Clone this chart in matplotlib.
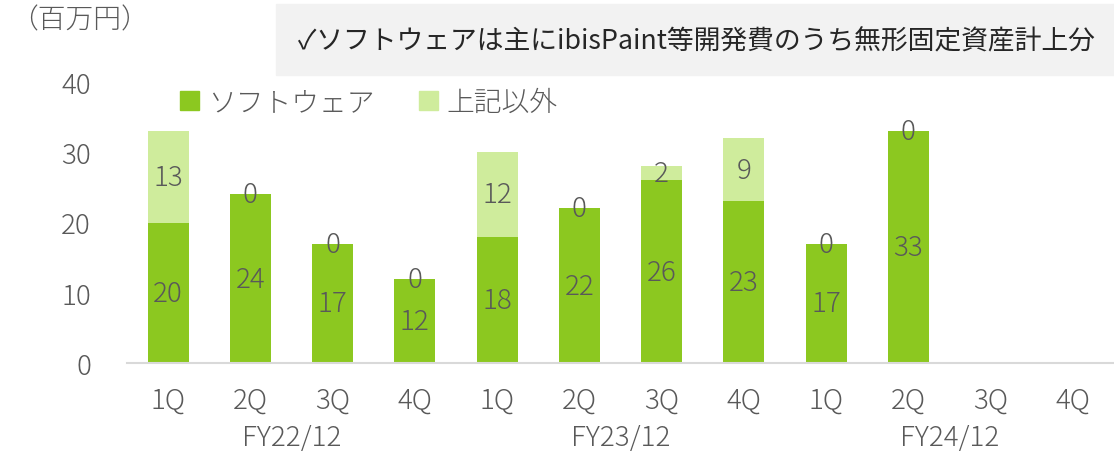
import numpy as np
import matplotlib.pyplot as plt
from matplotlib.patches import Rectangle

plt.rcParams['font.family'] = ['Noto Sans CJK JP', 'DejaVu Sans']
plt.rcParams['font.weight'] = 'light'

quarters = ['1Q', '2Q', '3Q', '4Q'] * 3
years = ['FY22/12', 'FY23/12', 'FY24/12']
software = [20, 24, 17, 12, 18, 22, 26, 23, 17, 33, None, None]
other = [13, 0, 0, 0, 12, 0, 2, 9, 0, 0, None, None]

dark = '#8cc820'
light = '#cfec9c'
txt = '#595959'

fig = plt.figure(figsize=(11.14, 4.52), dpi=100)
ax = fig.add_axes([127 / 1114, 88 / 452, 1 - 127 / 1114, 281 / 452])

x = np.arange(len(quarters))
for i in x:
    s, o = software[i], other[i]
    if s is None:
        continue
    ax.bar(i, s, width=0.5, color=dark, edgecolor='none')
    ax.bar(i, o, width=0.5, bottom=s, color=light, edgecolor='none')
    ax.text(i, s / 2, str(s), ha='center', va='center', fontsize=20, color=txt)
    ax.text(i, s + o / 2, str(o), ha='center', va='center', fontsize=20, color=txt)

ax.set_xlim(-0.5, len(quarters) - 0.5)
ax.set_ylim(0, 40)
ax.set_yticks([0, 10, 20, 30, 40])
ax.tick_params(axis='y', length=0, pad=26, labelsize=20, labelcolor=txt)
ax.set_xticks(x)
ax.set_xticklabels(quarters)
ax.tick_params(axis='x', length=0, pad=16, labelsize=20, labelcolor=txt)
for sp in ['top', 'right', 'left']:
    ax.spines[sp].set_visible(False)
ax.spines['bottom'].set_color('#d9d9d9')
ax.spines['bottom'].set_linewidth(1.5)

for k, y in enumerate(years):
    ax.text(4 * k + 1.5, -0.26, y, transform=ax.get_xaxis_transform(),
            ha='center', va='center', fontsize=20, color=txt)

# legend
h1 = Rectangle((0, 0), 1, 1, color=dark)
h2 = Rectangle((0, 0), 1, 1, color=light)
fig.legend([h1, h2], ['ソフトウェア', '上記以外'], loc='center left',
           bbox_to_anchor=(155 / 1114, 1 - 103 / 452), ncol=2, frameon=False,
           fontsize=20, labelcolor=txt, handlelength=0.7, handleheight=0.7,
           handletextpad=0.3, columnspacing=1.6)

fig.text(10 / 1114, 1 - 20 / 452, '（百万円）', ha='left', va='center',
         fontsize=20, color=txt)

fig.patches.append(Rectangle((276 / 1114, 1 - 76 / 452), 838 / 1114, 71 / 452,
                             transform=fig.transFigure, color='#f2f2f2', zorder=0))
fig.text(696 / 1114, 1 - 42 / 452, '✓ソフトウェアは主にibisPaint等開発費のうち無形固定資産計上分',
         ha='center', va='center', fontsize=19.3, color='#262626', fontweight='normal')

fig.savefig('out.png', dpi=100)
